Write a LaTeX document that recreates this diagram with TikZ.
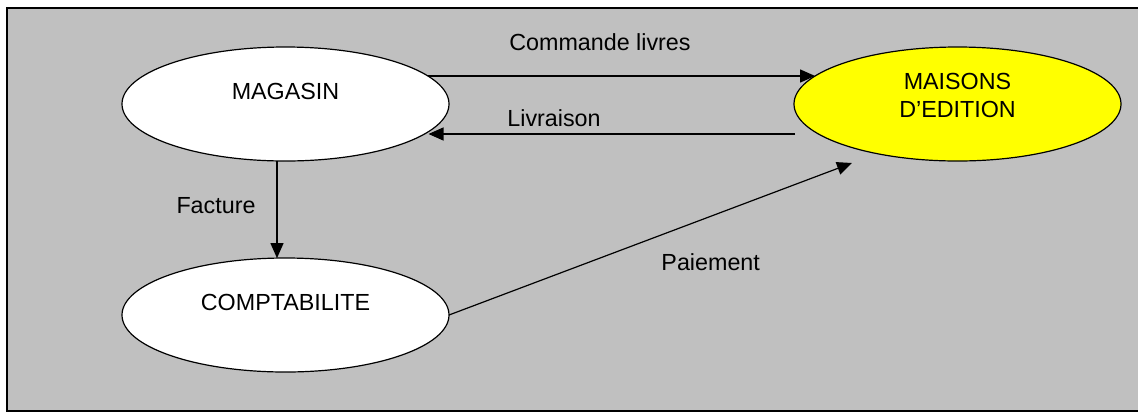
\documentclass[tikz,border=0pt]{standalone}
\usepackage{fontspec}
\setmainfont{Liberation Sans}
\usetikzlibrary{shapes.geometric,arrows.meta,calc}
\definecolor{panelgray}{HTML}{C0C0C0}
\definecolor{pubyellow}{HTML}{FFFF00}
\begin{document}
\begin{tikzpicture}[x=1bp,y=-1bp,
  every node/.style={font=\fontsize{23.3bp}{28bp}\selectfont},
  entity/.style={ellipse,draw=black,line width=1.2bp,fill=white,
    minimum width=327bp,minimum height=114bp,inner sep=0pt,outer sep=0pt},
  lbl/.style={anchor=base,inner sep=0pt},
  flow/.style={line width=1.2bp,-{Triangle[length=15bp,width=13bp]}}]
  \useasboundingbox (0,0) rectangle (1138,412);
  \clip (0,0) rectangle (1138,412);
  % background panel
  \draw[fill=panelgray,line width=2.2bp] (7,8) rectangle (1160,411);
  % entities
  \node[entity] (mag) at (285.5,104) {};
  \node[entity] (compta) at (285.5,315) {};
  \node[entity,fill=pubyellow] (edit) at (957.5,104) {};
  \node[lbl] (magtxt) at (285.5,99.3) {MAGASIN};
  \node[lbl] (comptatxt) at (285.5,310) {COMPTABILITE};
  \node[lbl,align=center] (edittxt) at (957.5,117.3) {MAISONS\\D’EDITION};
  % free ends
  \coordinate (livstart) at (795,134);
  \coordinate (payend) at (852,163);
  % flows
  \draw[flow] ($(mag.center)+(142.4,-28)$) -- ($(edit.center)+(-142.4,-28)$);
  \draw[flow] (livstart) -- ($(mag.center)+(143,30)$);
  \draw[flow] ($(mag.center)+(-8.5,56.9)$) -- ($(compta.center)+(-8.5,-56.9)$);
  \draw[flow] (compta.east) -- (payend);
  % flow labels
  \node[lbl] (cmdlbl) at (600,50.7) {Commande livres};
  \node[lbl] (livlbl) at (554,126.7) {Livraison};
  \node[lbl] (faclbl) at (216,213.3) {Facture};
  \node[lbl] (paylbl) at (710.7,270.7) {Paiement};
\end{tikzpicture}
\end{document}
